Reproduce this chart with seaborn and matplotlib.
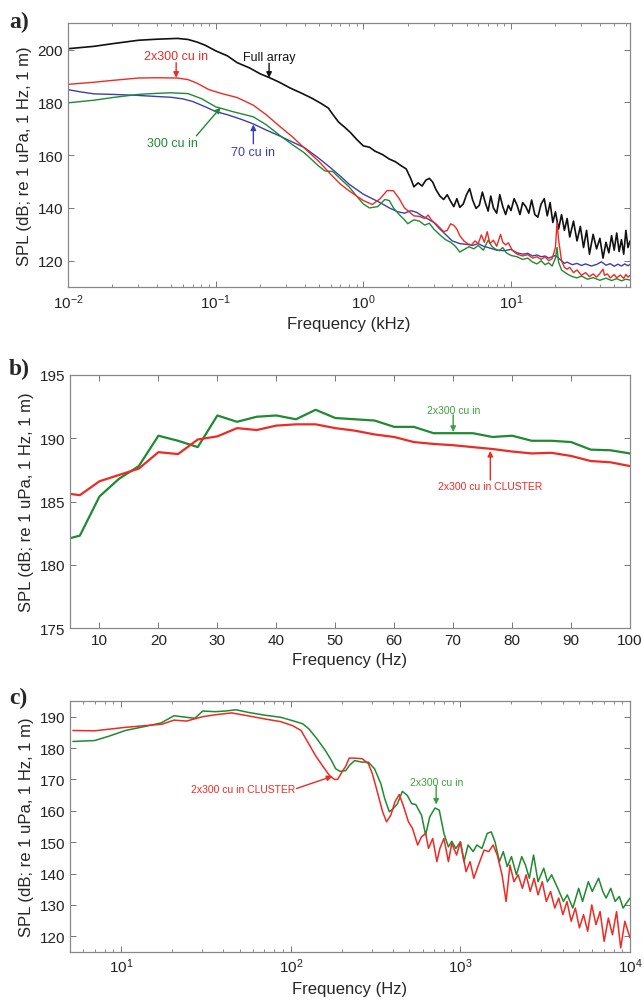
import numpy as np
import pandas as pd
import matplotlib
matplotlib.use("Agg")
import matplotlib.pyplot as plt
import seaborn as sns
from matplotlib.ticker import MultipleLocator

# ---- panel a: frequency in kHz, SPL in dB ----
full_array = [(0.01, 200.3), (0.015, 201.2), (0.02, 202.2), (0.03, 203.5), (0.04, 203.9), (0.055, 204.2),
              (0.065, 203.8), (0.075, 202.8), (0.085, 201.6), (0.1, 199.5), (0.12, 197.6), (0.14, 195.0),
              (0.17, 193.0), (0.2, 190.8), (0.23, 189.4), (0.27, 187.6), (0.32, 185.4), (0.38, 183.5),
              (0.45, 181.5), (0.52, 179.5), (0.58, 177.8), (0.62, 175.5), (0.68, 172.5), (0.75, 170.5),
              (0.82, 168.5), (0.9, 166.0), (1.0, 163.5), (1.1, 163.0), (1.2, 161.5), (1.35, 160.2),
              (1.5, 158.5), (1.65, 157.5), (1.8, 156.0), (1.95, 154.8), (2.1, 151.0), (2.2, 148.0),
              (2.35, 149.5), (2.5, 148.3), (2.65, 150.5), (2.8, 151.2), (2.95, 149.8), (3.1, 147.0),
              (3.3, 144.5), (3.5, 143.2), (3.7, 145.0), (3.9, 142.5), (4.1, 140.5), (4.3, 143.5),
              (4.5, 140.2), (4.75, 141.5), (5.0, 145.0), (5.25, 147.3), (5.5, 143.0), (5.8, 139.8),
              (6.1, 141.0), (6.4, 146.0), (6.7, 142.0), (7.0, 138.8), (7.3, 144.5), (7.6, 140.0),
              (8.0, 138.0), (8.4, 145.0), (8.8, 140.5), (9.2, 137.5), (9.6, 141.0), (10, 139.0),
              (10.5, 143.5), (11, 141.0), (11.5, 137.5), (12, 142.0), (12.6, 140.5), (13.2, 138.0),
              (13.8, 143.0), (14.5, 137.5), (15.2, 136.5), (16, 141.5), (16.8, 143.5), (17.6, 137.0),
              (18.4, 142.0), (19.2, 134.5), (20, 138.5), (21, 132.0), (22, 137.5), (23, 131.5),
              (24, 136.0), (25, 129.0), (26.5, 135.0), (28, 127.5), (29.5, 133.0), (31, 125.0),
              (32.5, 131.5), (34, 122.5), (36, 130.0), (38, 124.5), (40, 128.5), (42, 121.0),
              (44, 127.0), (46, 123.0), (48, 129.5), (50, 124.0), (52, 130.5), (54, 123.5),
              (56, 128.0), (58, 122.5), (60, 131.5), (62, 125.0), (64, 127.5)]

two_x300 = [(0.01, 186.8), (0.015, 187.6), (0.02, 188.3), (0.03, 189.2), (0.04, 189.3), (0.055, 189.2),
            (0.065, 188.6), (0.075, 187.2), (0.09, 184.8), (0.11, 183.3), (0.14, 181.8), (0.18, 178.9),
            (0.22, 175.3), (0.27, 171.0), (0.33, 167.0), (0.4, 162.6), (0.5, 157.6), (0.6, 152.8),
            (0.7, 149.0), (0.8, 146.5), (0.9, 144.5), (1.0, 142.8), (1.15, 141.3), (1.3, 143.5),
            (1.45, 146.6), (1.6, 146.5), (1.75, 143.5), (1.9, 140.0), (2.05, 138.5), (2.2, 137.0),
            (2.4, 136.8), (2.6, 136.0), (2.75, 137.3), (2.9, 135.3), (3.1, 134.0), (3.3, 132.5),
            (3.5, 131.0), (3.7, 131.5), (3.9, 134.0), (4.1, 133.4), (4.3, 132.0), (4.5, 129.5),
            (4.8, 127.5), (5.1, 126.4), (5.4, 126.0), (5.7, 127.5), (6.0, 126.5), (6.3, 129.8),
            (6.6, 127.0), (6.9, 131.0), (7.2, 126.5), (7.6, 127.8), (8.0, 125.5), (8.5, 130.0),
            (8.8, 127.0), (9.2, 126.0), (9.6, 126.8), (10.2, 124.0), (11, 122.5), (12, 121.8),
            (13, 122.3), (14, 121.0), (15, 121.5), (16, 120.5), (17, 121.5), (18, 120.0),
            (19, 120.8), (20, 125.0), (20.5, 134.5), (21, 128.0), (22, 120.0), (23, 117.5),
            (24, 116.8), (25, 117.5), (26.5, 115.5), (28, 116.5), (30, 114.5), (32, 115.5),
            (34, 114.0), (36, 115.0), (38, 113.8), (40, 115.2), (42, 116.8), (43, 114.5),
            (45, 115.0), (47, 113.5), (50, 114.8), (52, 113.5), (55, 114.6), (58, 113.3),
            (60, 114.8), (62, 113.8), (64, 114.5)]

one_x300 = [(0.01, 179.8), (0.015, 180.8), (0.02, 181.8), (0.03, 183.0), (0.04, 183.4), (0.05, 183.6),
            (0.065, 183.3), (0.08, 181.4), (0.1, 178.3), (0.13, 176.5), (0.18, 174.5), (0.22, 171.5),
            (0.27, 167.6), (0.33, 164.0), (0.4, 160.8), (0.5, 155.8), (0.55, 154.0), (0.62, 153.8),
            (0.7, 151.0), (0.8, 148.0), (0.9, 144.5), (1.0, 141.5), (1.1, 140.0), (1.25, 140.5),
            (1.4, 143.2), (1.5, 142.8), (1.6, 140.0), (1.75, 137.5), (1.9, 135.5), (2.0, 134.0),
            (2.2, 135.5), (2.4, 135.0), (2.6, 133.5), (2.8, 134.2), (3.0, 132.0), (3.3, 129.8),
            (3.6, 128.0), (3.9, 127.0), (4.2, 125.5), (4.5, 123.3), (4.8, 124.2), (5.2, 125.3),
            (5.6, 124.5), (6.0, 125.8), (6.5, 124.0), (7.0, 127.8), (7.4, 125.5), (7.8, 124.5),
            (8.3, 123.8), (8.8, 125.0), (9.3, 123.0), (10, 122.0), (11, 121.5), (12, 120.5),
            (13, 121.0), (14, 119.5), (15, 118.8), (16, 120.0), (17, 118.5), (18, 119.2),
            (19, 118.0), (20, 121.0), (20.5, 125.0), (21, 119.5), (22, 116.5), (24, 115.0),
            (26, 114.0), (28, 113.5), (30, 114.2), (33, 113.0), (36, 113.6), (40, 112.6),
            (44, 113.4), (48, 112.5), (52, 113.2), (56, 112.4), (60, 113.0), (64, 112.7)]

seventy = [(0.01, 184.8), (0.012, 184.0), (0.015, 183.2), (0.02, 183.0), (0.025, 182.8), (0.03, 182.6),
           (0.04, 182.2), (0.05, 181.9), (0.06, 181.3), (0.07, 180.3), (0.085, 178.3), (0.1, 176.5),
           (0.12, 175.3), (0.15, 173.5), (0.18, 171.8), (0.22, 169.5), (0.27, 167.3), (0.33, 165.0),
           (0.4, 162.8), (0.5, 158.8), (0.6, 155.2), (0.7, 152.0), (0.8, 149.0), (0.9, 147.0),
           (1.0, 145.2), (1.15, 143.5), (1.3, 142.0), (1.5, 140.0), (1.7, 138.6), (1.9, 138.0),
           (2.1, 139.0), (2.3, 138.3), (2.5, 137.0), (2.7, 136.0), (3.0, 134.5), (3.3, 132.0),
           (3.6, 130.0), (4.0, 127.5), (4.5, 126.5), (5.0, 126.2), (5.5, 125.8), (6.0, 126.5),
           (6.5, 125.5), (7.0, 125.0), (7.5, 124.5), (8.0, 124.0), (9.0, 123.8), (10, 124.3),
           (11, 123.0), (12, 122.5), (13, 122.8), (14, 121.8), (15, 122.2), (16, 121.5),
           (17, 121.8), (18, 121.0), (19, 121.5), (20, 122.0), (21, 121.0), (22, 120.0),
           (23, 119.0), (24, 119.5), (26, 118.5), (28, 119.0), (30, 118.2), (32, 118.8),
           (35, 118.0), (38, 118.6), (41, 119.6), (44, 118.3), (47, 118.9), (50, 117.9),
           (53, 118.7), (56, 118.0), (59, 118.8), (62, 118.1), (64, 118.6)]

# ---- panel b: linear frequency in Hz ----
freq_b = [5, 6.67, 10, 13.33, 16.67, 20, 23.33, 26.67, 30, 33.33, 36.67, 40, 43.33, 46.67, 50,
          53.33, 56.67, 60, 63.33, 66.67, 70, 73.33, 76.67, 80, 83.33, 86.67, 90, 93.33, 96.67, 100]
single_b = [182.1, 182.3, 185.4, 186.8, 187.8, 190.2, 189.8, 189.3, 191.8, 191.3, 191.7, 191.8, 191.5,
            192.25, 191.6, 191.5, 191.4, 190.9, 190.9, 190.4, 190.4, 190.4, 190.1, 190.2, 189.8,
            189.8, 189.7, 189.1, 189.05, 188.8]
cluster_b = [185.6, 185.5, 186.6, 187.1, 187.6, 188.9, 188.75, 189.9, 190.15, 190.8, 190.65, 191.0,
             191.1, 191.1, 190.8, 190.6, 190.3, 190.1, 189.7, 189.55, 189.45, 189.3, 189.15, 188.95,
             188.8, 188.85, 188.6, 188.2, 188.1, 187.8]

# ---- panel c: log frequency in Hz ----
single_c = [(5.2, 182.1), (7.0, 182.4), (8.5, 183.8), (10.6, 185.6), (13.6, 186.8), (17.2, 188.0),
            (20.5, 190.3), (24.3, 189.8), (27.2, 189.5), (30.3, 191.8), (35.8, 191.6), (41.2, 191.8),
            (47.7, 192.2), (55.8, 191.4), (69.9, 190.5), (87.5, 189.8), (103, 188.7), (118, 187.7),
            (128, 186.1), (143, 182.9), (160, 179.2), (174, 176.0), (184, 173.4), (195, 172.6),
            (211, 172.8), (222, 174.5), (238, 176.0), (264, 175.5), (287, 175.5), (312, 173.4),
            (340, 168.6), (358, 163.9), (381, 159.7), (402, 160.7), (426, 162.3), (455, 166.2),
            (487, 164.9), (516, 162.3), (546, 162.0), (590, 158.6), (624, 152.3), (660, 158.1),
            (709, 160.9), (751, 160.2), (800, 152.8), (850, 148.5), (890, 150.3), (940, 148.0),
            (1000, 150.1), (1050, 143.8), (1110, 149.1), (1190, 147.0), (1250, 149.1), (1340, 148.0),
            (1440, 152.8), (1520, 153.3), (1600, 150.1), (1700, 143.8), (1790, 147.0), (1890, 142.2),
            (2000, 145.4), (2140, 139.6), (2300, 145.4), (2420, 142.7), (2550, 138.5), (2700, 145.9),
            (2870, 137.4), (3100, 141.7), (3260, 137.4), (3450, 139.6), (3750, 135.3), (4050, 131.1),
            (4270, 133.2), (4600, 129.0), (4980, 135.3), (5250, 131.1), (5680, 137.4), (5990, 134.3),
            (6530, 138.5), (6910, 134.3), (7230, 132.2), (7700, 135.3), (8170, 131.1), (8650, 132.7),
            (9100, 129.0), (10000, 132.2)]

cluster_c = [(5.2, 185.6), (7.0, 185.5), (10.6, 186.6), (17.4, 187.6), (20.5, 188.9), (24.3, 188.6),
             (30.3, 190.0), (35.8, 190.6), (44.8, 191.2), (55.8, 190.3), (69.9, 189.3), (87.5, 188.4),
             (103, 187.1), (115, 185.6), (126, 181.9), (140, 177.6), (156, 173.9), (169, 171.3),
             (181, 170.0), (189, 170.0), (200, 172.3), (211, 174.2), (221, 176.8), (236, 176.8),
             (264, 176.6), (287, 175.0), (303, 171.8), (320, 167.1), (348, 159.7), (367, 156.5),
             (389, 158.6), (411, 162.8), (436, 165.2), (460, 161.8), (494, 156.5), (522, 154.4),
             (560, 149.1), (590, 151.7), (624, 152.8), (649, 148.0), (687, 151.2), (727, 143.8),
             (757, 148.0), (800, 151.2), (850, 143.8), (890, 149.6), (950, 145.9), (1000, 150.1),
             (1080, 140.6), (1140, 143.8), (1200, 138.5), (1290, 143.3), (1380, 147.5), (1470, 147.0),
             (1560, 149.1), (1650, 145.9), (1760, 139.6), (1860, 131.1), (1960, 142.7), (2070, 137.4),
             (2190, 139.6), (2320, 135.3), (2440, 139.6), (2580, 134.3), (2720, 138.5), (2870, 133.2),
             (3040, 137.4), (3210, 131.1), (3400, 134.3), (3600, 129.0), (3800, 132.2), (4020, 126.9),
             (4250, 131.1), (4500, 124.8), (4760, 129.0), (5030, 122.7), (5320, 126.9), (5630, 121.6),
             (5950, 130.0), (6300, 123.7), (6660, 127.9), (7040, 118.4), (7450, 125.8), (7880, 120.5),
             (8330, 127.9), (8810, 116.3), (9320, 124.8), (10000, 119.5)]

BLACK, RED, GREEN, BLUE = "#111111", "#ee2a24", "#1f8a30", "#3a3fb0"
YLABEL = "SPL (dB; re 1 uPa, 1 Hz, 1 m)"

sns.set_theme(style="ticks")
plt.rcParams["font.family"] = ["Liberation Sans", "DejaVu Sans"]
plt.rcParams["mathtext.default"] = "regular"


def draw(ax, pts, color, lw):
    df = pd.DataFrame(pts, columns=["f", "spl"])
    sns.lineplot(data=df, x="f", y="spl", color=color, lw=lw, ax=ax,
                 estimator=None, sort=False, legend=False)


def style_axes(ax):
    ax.tick_params(which="both", direction="in", top=True, right=True,
                   labelsize=11, colors="#222222")
    ax.tick_params(which="major", length=4, width=0.7, color="#777777")
    ax.tick_params(which="minor", length=2.2, width=0.6, color="#777777")
    for sp in ax.spines.values():
        sp.set_color("#888888")
        sp.set_linewidth(0.9)
    ax.set_ylabel(YLABEL, fontsize=12, labelpad=4)


def note(ax, text, color, txt_xy, tail, head, size, ha="center"):
    ax.text(*txt_xy, text, color=color, fontsize=size, ha=ha, va="center")
    ax.annotate("", xy=head, xytext=tail,
                arrowprops=dict(arrowstyle="-|>", color=color, lw=1.0,
                                mutation_scale=8, shrinkA=0, shrinkB=0))


fig = plt.figure(figsize=(6.44, 10.04), dpi=100)
ax_a = fig.add_axes([0.1056, 0.713, 0.8727, 0.263])
ax_b = fig.add_axes([0.1087, 0.3735, 0.8696, 0.252])
ax_c = fig.add_axes([0.1087, 0.0508, 0.8696, 0.25])

# panel a
ax_a.set_xscale("log")
draw(ax_a, full_array, BLACK, 1.2)
draw(ax_a, seventy, BLUE, 1.0)
draw(ax_a, one_x300, GREEN, 1.0)
draw(ax_a, two_x300, RED, 1.0)
ax_a.set_xlim(0.01, 64)
ax_a.set_ylim(110, 210)
ax_a.set_yticks([120, 140, 160, 180, 200])
ax_a.set_xlabel("Frequency (kHz)", fontsize=12)
style_axes(ax_a)
note(ax_a, "Full array", BLACK, (0.23, 197.2), (0.23, 194.8), (0.23, 189.3), 9)
note(ax_a, "2x300 cu in", RED, (0.054, 197.5), (0.054, 195.0), (0.054, 189.3), 9)
note(ax_a, "300 cu in", GREEN, (0.051, 164.5), (0.074, 167.3), (0.108, 178.0), 9)
note(ax_a, "70 cu in", BLUE, (0.18, 161.3), (0.18, 164.3), (0.18, 171.6), 9)

# panel b
sns.lineplot(x=freq_b, y=single_b, color=GREEN, lw=1.6, ax=ax_b, estimator=None, sort=False)
sns.lineplot(x=freq_b, y=cluster_b, color=RED, lw=1.6, ax=ax_b, estimator=None, sort=False)
ax_b.set_xlim(5, 100)
ax_b.set_ylim(175, 195)
ax_b.xaxis.set_major_locator(MultipleLocator(10))
ax_b.yaxis.set_major_locator(MultipleLocator(5))
ax_b.set_xlabel("Frequency (Hz)", fontsize=12)
style_axes(ax_b)
note(ax_b, "2x300 cu in", "#3aa03a", (70, 192.25), (70, 191.85), (70, 190.5), 7.5)
note(ax_b, "2x300 cu in CLUSTER", RED, (76.3, 186.2), (76.3, 186.7), (76.3, 189.0), 7.5)

# panel c
ax_c.set_xscale("log")
draw(ax_c, single_c, GREEN, 1.1)
draw(ax_c, cluster_c, RED, 1.1)
ax_c.set_xlim(5, 10000)
ax_c.set_ylim(115, 195)
ax_c.set_yticks(range(120, 191, 10))
ax_c.set_xlabel("Frequency (Hz)", fontsize=12)
style_axes(ax_c)
note(ax_c, "2x300 cu in CLUSTER", RED, (107, 167.1), (108, 167.1), (176, 171.0), 7.5, ha="right")
note(ax_c, "2x300 cu in", "#3aa03a", (720, 169.3), (720, 167.9), (720, 162.0), 7.5)

for lab, y in [("a)", 0.978), ("b)", 0.632), ("c)", 0.304)]:
    fig.text(0.014, y, lab, fontsize=17, fontweight="bold",
             family=["Liberation Serif", "DejaVu Serif"], va="center", ha="left")

fig.savefig("out.png", dpi=100)
